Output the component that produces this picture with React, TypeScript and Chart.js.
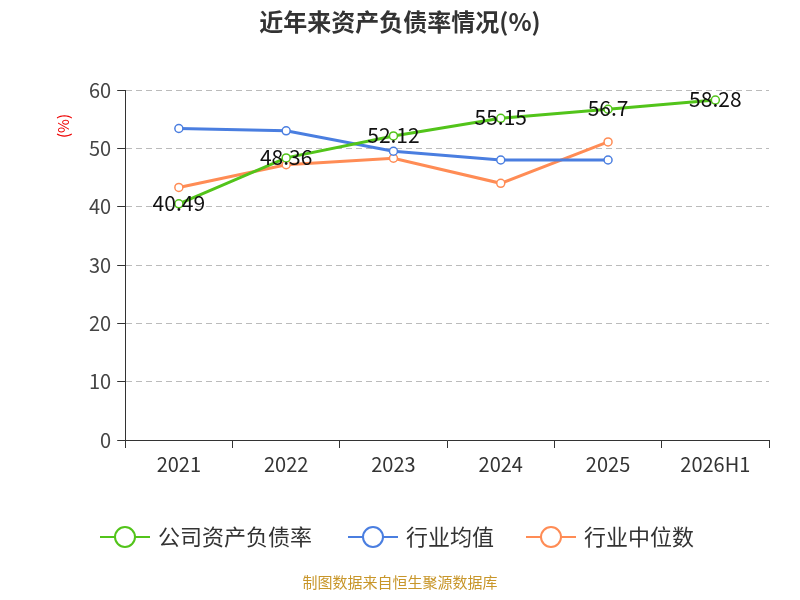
import React, { useEffect, useRef } from "react";
import { Chart, registerables } from "chart.js";
Chart.register(...registerables);

const categories = ["2021", "2022", "2023", "2024", "2025", "2026H1"];
const company = [40.49, 48.36, 52.12, 55.15, 56.7, 58.28];
const industryAvg = [53.4, 53.0, 49.5, 48.0, 48.0, null];
const industryMedian = [43.3, 47.2, 48.3, 44.0, 51.1, null];
const seriesNames = ["公司资产负债率", "行业均值", "行业中位数"];
const colors = ["#52c41a", "#4a7ee0", "#ff8c55"];
const FONT = "'Noto Sans CJK SC', 'Noto Sans', sans-serif";

const overlay = {
  id: "overlay",
  afterDraw(chart: any) {
    const ctx = chart.ctx;
    ctx.save();
    ctx.fillStyle = "#333";
    ctx.font = `bold 24px ${FONT}`;
    ctx.textAlign = "center";
    ctx.textBaseline = "middle";
    ctx.fillText("近年来资产负债率情况(%)", 392, 14);
    ctx.save();
    ctx.translate(55, 118);
    ctx.rotate(-Math.PI / 2);
    ctx.fillStyle = "#e00";
    ctx.font = `15px ${FONT}`;
    ctx.fillText("(%)", 0, 0);
    ctx.restore();
    const meta = chart.getDatasetMeta(0);
    ctx.fillStyle = "#111";
    ctx.font = `21px ${FONT}`;
    meta.data.forEach((p: any, i: number) => {
      ctx.fillText(String(company[i]), p.x, p.y - 1);
    });
    const xs = [92, 340, 518];
    ctx.font = `22px ${FONT}`;
    ctx.textAlign = "left";
    xs.forEach((x, i) => {
      const y = 529;
      ctx.strokeStyle = colors[i];
      ctx.lineWidth = 2;
      ctx.beginPath();
      ctx.moveTo(x, y);
      ctx.lineTo(x + 50, y);
      ctx.stroke();
      ctx.beginPath();
      ctx.arc(x + 25, y, 10, 0, Math.PI * 2);
      ctx.fillStyle = "#fff";
      ctx.fill();
      ctx.stroke();
      ctx.fillStyle = "#333";
      ctx.fillText(seriesNames[i], x + 58, y);
    });
    ctx.textAlign = "center";
    ctx.fillStyle = "#c8962a";
    ctx.font = `15px ${FONT}`;
    ctx.fillText("制图数据来自恒生聚源数据库", 392, 574);
    ctx.restore();
  },
};

export default function App() {
  const ref = useRef<HTMLCanvasElement>(null);
  useEffect(() => {
    const mk = (label: string, data: any[], c: string) => ({
      label, data, borderColor: c, backgroundColor: "#fff", borderWidth: 3,
      pointRadius: 4, pointBorderWidth: 1.5, pointBorderColor: c, pointBackgroundColor: "#fff", tension: 0,
    });
    const chart = new Chart(ref.current!, {
      type: "line",
      data: {
        labels: categories,
        datasets: [
          mk(seriesNames[0], company, colors[0]),
          mk(seriesNames[1], industryAvg, colors[1]),
          mk(seriesNames[2], industryMedian, colors[2]),
        ],
      },
      options: {
        animation: false,
        responsive: false,
        layout: { padding: { top: 82, left: 75, right: 23, bottom: 112 } },
        plugins: { legend: { display: false }, tooltip: { enabled: false } },
        scales: {
          x: {
            offset: true,
            grid: { display: true, drawOnChartArea: false, offset: true, color: "#333", tickLength: 8 },
            border: { color: "#333" },
            ticks: { color: "#333", font: { size: 20, family: FONT }, padding: 4 },
          },
          y: {
            min: 0, max: 60,
            ticks: { stepSize: 10, color: "#444", font: { size: 20, family: FONT }, padding: 6 },
            grid: { color: "#bbb", tickLength: 8, tickColor: "#333" } as any,
            border: { color: "#333", dash: [6, 4] } as any,
          },
        },
      },
      plugins: [overlay],
    });
    return () => chart.destroy();
  }, []);
  return <canvas ref={ref} width={784} height={584} style={{ display: "block" }} />;
}
